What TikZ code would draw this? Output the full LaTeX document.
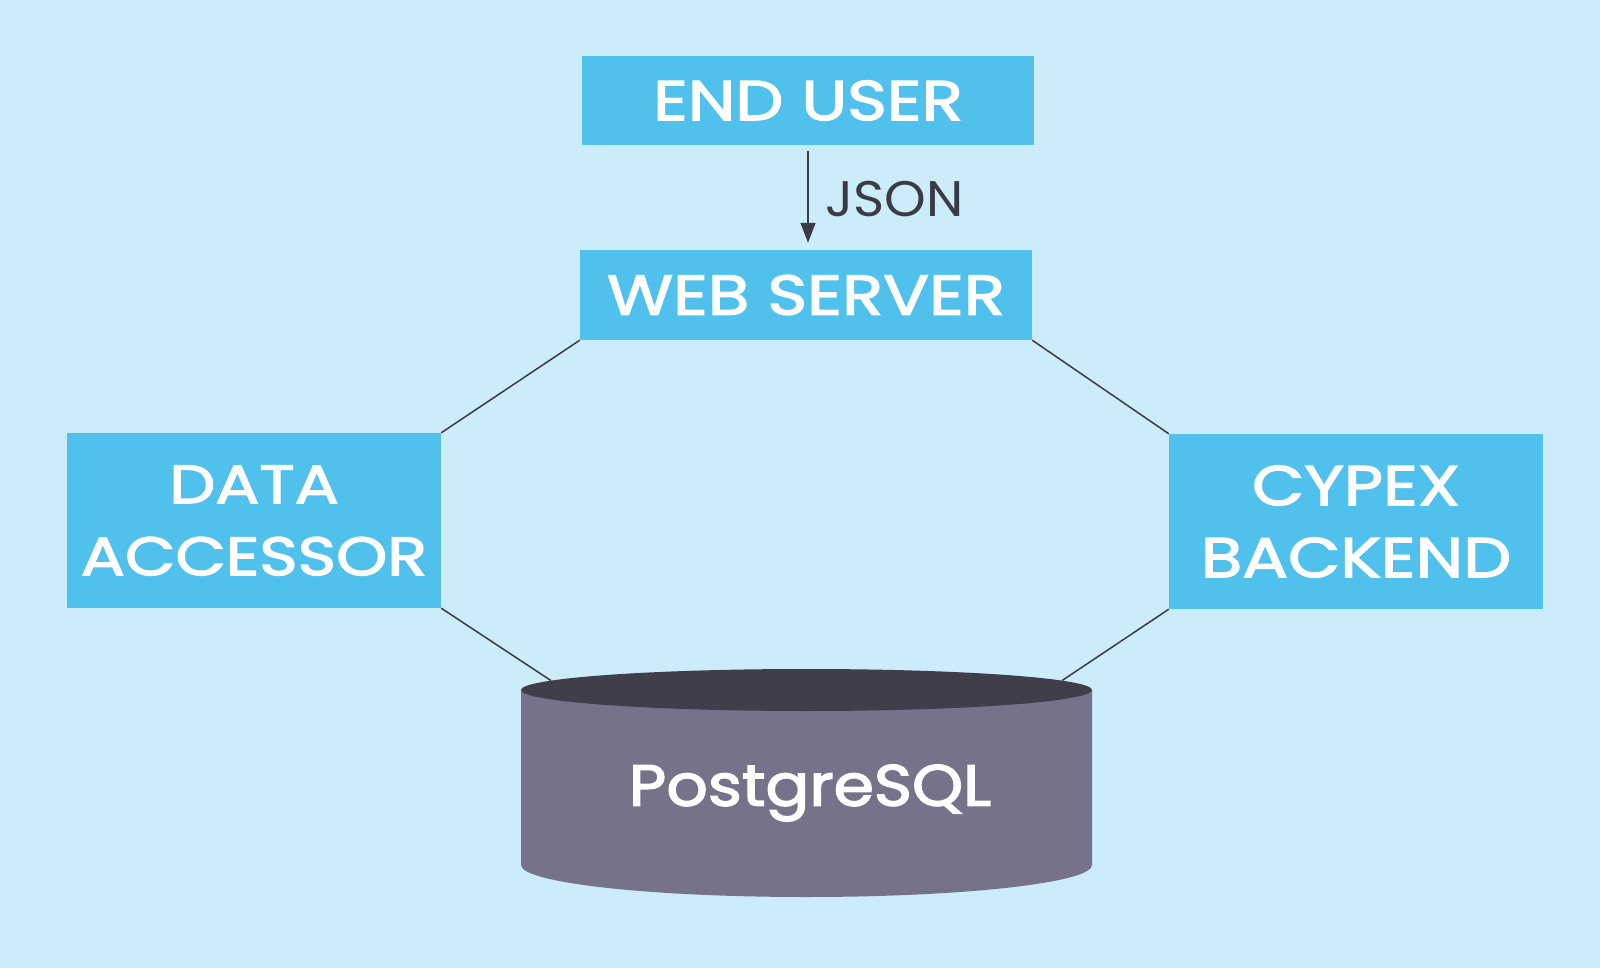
\documentclass[tikz,border=0pt]{standalone}
\usepackage{fontspec}
\setmainfont{Poppins}
\newfontfamily\boxfont{Poppins}[FakeBold=2.5,FakeStretch=1.21]
\newfontfamily\dbfont{Poppins}[FakeBold=2.5,FakeStretch=1.12]
\newfontfamily\labfont{Poppins}[FakeStretch=1.06]
\usetikzlibrary{arrows.meta}
\definecolor{bgc}{HTML}{CBECF8}
\definecolor{boxc}{HTML}{4FC1EC}
\definecolor{linec}{HTML}{3B3B46}
\definecolor{dbbody}{HTML}{75728A}
\definecolor{dbtop}{HTML}{403E4A}
\begin{document}
\begin{tikzpicture}[x=1pt,y=-1pt,
  boxnode/.style={fill=boxc,text=white,inner sep=0pt,align=center,
    font=\boxfont\fontsize{56}{72}\selectfont},
  conn/.style={draw=linec,line width=1.5pt}]
\fill[bgc] (0,0) rectangle (1600,968);
\useasboundingbox (0,0) rectangle (1600,968);
% boxes
\node[boxnode,minimum width=452pt,minimum height=89pt] (eu) at (808,100.5) {END USER};
\node[boxnode,minimum width=452pt,minimum height=90pt] (ws) at (806,295) {WEB SERVER};
\node[boxnode,minimum width=374pt,minimum height=175pt,font=\boxfont\fontsize{54}{72}\selectfont] (da) at (254,520.5) {DATA\\ACCESSOR};
\node[boxnode,minimum width=374pt,minimum height=175pt] (cb) at (1356,521.5) {CYPEX\\BACKEND};
% database cylinder
\fill[dbbody] (521,690) -- (521,865) arc[start angle=180,end angle=360,x radius=285.5pt,y radius=32pt] -- (1092,690) -- cycle;
\fill[dbtop] (806.5,690) ellipse[x radius=285.5pt,y radius=21pt];
\node[text=white,inner sep=0pt,font=\dbfont\fontsize{58}{60}\selectfont] (db) at (810,793) {PostgreSQL};
\coordinate (dbL) at (551,680.6);
\coordinate (dbR) at (1062,680.6);
% connectors
\draw[conn] (ws.south west) -- (da.north east);
\draw[conn] (ws.south east) -- (cb.north west);
\draw[conn] (da.south east) -- (dbL);
\draw[conn] (cb.south west) -- (dbR);
\draw[draw=linec,line width=1.5pt,-{Triangle[length=20pt,width=15pt]},shorten <=6pt,shorten >=7pt] (eu.south -| 808,0) -- (ws.north -| 808,0);
\node[anchor=west,inner sep=0pt,text=linec,font=\labfont\fontsize{50}{52}\selectfont] (json) at (825,199) {JSON};
\end{tikzpicture}
\end{document}
